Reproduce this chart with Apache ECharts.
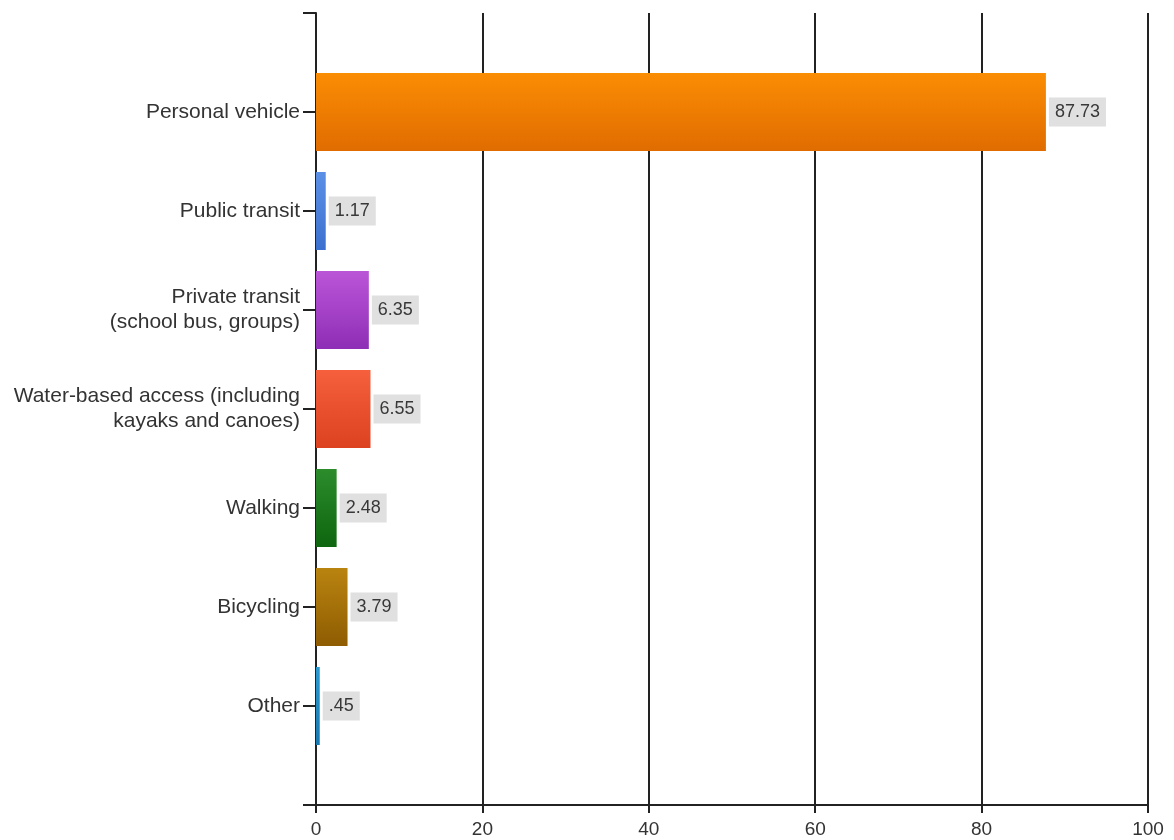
<!DOCTYPE html>
<html>
<head>
<meta charset="utf-8">
<script src="https://cdn.jsdelivr.net/npm/echarts@6/dist/echarts.min.js"></script>
<style>
html,body{margin:0;padding:0;background:#fff;}
#chart{width:1174px;height:840px;}
</style>
</head>
<body>
<div id="chart"></div>
<script>
// Data
var categories = ['Personal vehicle', 'Public transit', 'Private transit\n(school bus, groups)',
  'Water-based access (including\nkayaks and canoes)', 'Walking', 'Bicycling', 'Other'];
var values = [87.73, 1.17, 6.35, 6.55, 2.48, 3.79, 0.45];
var xTicks = [0, 20, 40, 60, 80, 100];

// Styles
var barColors = [
  ['#fb8d04', '#e06c00'],
  ['#5c90e6', '#3c70d0'],
  ['#bb55d8', '#8e2eb6'],
  ['#f6603c', '#dc4220'],
  ['#2c8c2c', '#0e660e'],
  ['#ba8410', '#8e5c02'],
  ['#2a9ad0', '#1878b0']
];
var FONT = 'Liberation Sans, Arial, sans-serif';

var chart = echarts.init(document.getElementById('chart'));
var cats = [''].concat(categories).concat(['']);
var seriesData = [{value: '-'}].concat(values.map(function (v, i) {
  return {
    value: v,
    itemStyle: {
      color: new echarts.graphic.LinearGradient(0, 0, 0, 1, [
        {offset: 0, color: barColors[i][0]},
        {offset: 1, color: barColors[i][1]}
      ])
    }
  };
})).concat([{value: '-'}]);

chart.setOption({
  animation: false,
  backgroundColor: '#ffffff',
  grid: {left: 316, right: 26, top: 13, bottom: 35, containLabel: false},
  xAxis: {
    type: 'value',
    min: xTicks[0],
    max: xTicks[xTicks.length - 1],
    interval: 20,
    axisLine: {show: true, lineStyle: {color: '#222', width: 2}},
    axisTick: {show: true, length: 8, lineStyle: {color: '#222', width: 2}},
    axisLabel: {color: '#333', fontSize: 19, fontFamily: FONT, margin: 15},
    splitLine: {show: true, lineStyle: {color: '#222', width: 2}}
  },
  yAxis: {
    type: 'category',
    data: cats,
    inverse: true,
    boundaryGap: false,
    axisLine: {show: true, lineStyle: {color: '#222', width: 2}},
    axisTick: {show: true, length: 13, alignWithLabel: true, lineStyle: {color: '#222', width: 2}},
    axisLabel: {
      color: '#333', fontSize: 21, fontFamily: FONT,
      margin: 16, align: 'right', lineHeight: 25, interval: 0
    },
    splitLine: {show: false}
  },
  series: [{
    type: 'bar',
    data: seriesData,
    barWidth: 78,
    label: {
      show: true,
      position: 'right',
      distance: 3,
      color: '#383838',
      fontSize: 18,
      fontFamily: FONT,
      backgroundColor: '#e0e0e0',
      padding: [6, 6, 5, 6],
      formatter: function (p) {
        return p.value.toFixed(2).replace(/^0\./, '.');
      }
    }
  }]
});
</script>
</body>
</html>
